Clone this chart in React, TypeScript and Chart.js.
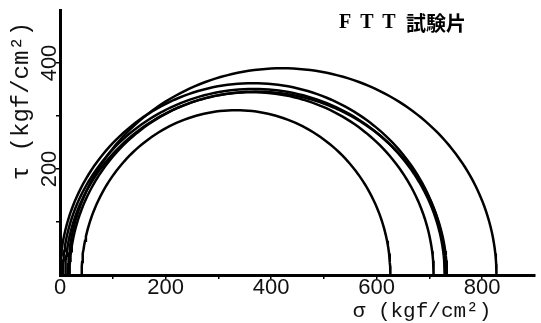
import React, { useEffect, useRef } from "react";
import { Chart, registerables } from "chart.js";

Chart.register(...registerables);

// Mohr circles (kgf/cm²)
const sigma3 = [41, 18, 0, 5, 10, 15]; // left end of each semicircle
const sigma1 = [626, 708, 731, 729, 733, 827]; // right end
const tauPeak = [311, 345, 362, 351, 346, 390]; // top of each arc
const xTickLabels = [0, 200, 400, 600, 800];
const yTickLabels = [200, 400];
const titleText = ["F", "T", "T", "試験片"];
const xAxisTitle = "σ (kgf/cm²)";
const yAxisTitle = "τ (kgf/cm²)";

const STEPS = 120;

function arcPoints(i: number) {
  const c = (sigma1[i] + sigma3[i]) / 2;
  const a = (sigma1[i] - sigma3[i]) / 2;
  const pts: { x: number; y: number }[] = [];
  for (let k = 0; k <= STEPS; k++) {
    const t = (Math.PI * k) / STEPS;
    pts.push({ x: c - a * Math.cos(t), y: tauPeak[i] * Math.sin(t) });
  }
  return pts;
}

const textPlugin = {
  id: "textPlugin",
  afterDraw(chart: any) {
    const ctx = chart.ctx;
    const xs = chart.scales.x;
    const ys = chart.scales.y;
    ctx.save();
    ctx.fillStyle = "#111";
    // x tick labels
    ctx.font = "22px 'Liberation Sans'";
    ctx.textAlign = "center";
    ctx.textBaseline = "middle";
    for (const v of xTickLabels) {
      ctx.fillText(String(v), xs.getPixelForValue(v), 288);
    }
    // y tick labels (rotated)
    for (const v of yTickLabels) {
      ctx.save();
      ctx.translate(50, ys.getPixelForValue(v));
      ctx.rotate(-Math.PI / 2);
      ctx.fillText(String(v), 0, 0);
      ctx.restore();
    }
    // x axis title
    ctx.font = "21px 'Liberation Mono'";
    ctx.fillText(xAxisTitle, 422, 311);
    // y axis title
    ctx.save();
    ctx.font = "24px 'Liberation Mono'";
    ctx.translate(22, 101);
    ctx.rotate(-Math.PI / 2);
    ctx.fillText(yAxisTitle, 0, 0);
    ctx.restore();
    // chart title
    ctx.fillStyle = "#000";
    ctx.font = "bold 20px 'Liberation Serif'";
    ctx.fillText(titleText[0], 345, 23);
    ctx.fillText(titleText[1], 367, 23);
    ctx.fillText(titleText[2], 389, 23);
    ctx.font = "bold 20px 'Noto Sans CJK JP'";
    ctx.textAlign = "left";
    ctx.fillText(titleText[3], 406, 23);
    ctx.restore();
  },
};

export default function App() {
  const ref = useRef<HTMLCanvasElement | null>(null);
  useEffect(() => {
    document.body.style.margin = "0";
    const canvas = ref.current;
    if (!canvas) return;
    const datasets = sigma1.map((_, i) => ({
      data: arcPoints(i),
      showLine: true,
      borderColor: "#000",
      borderWidth: 2.5,
      pointRadius: 0,
      fill: false,
      tension: 0,
    }));
    const hideEdge = (maxV: number) => (c: any) =>
      c.tick && (c.tick.value === maxV || c.tick.value === 0) ? "rgba(0,0,0,0)" : "#000";
    const chart = new Chart(canvas, {
      type: "scatter",
      data: { datasets },
      options: {
        animation: false,
        responsive: false,
        devicePixelRatio: 1,
        layout: { padding: { left: 0, right: 6, top: 10, bottom: 0 } },
        plugins: { legend: { display: false }, tooltip: { enabled: false } },
        scales: {
          x: {
            type: "linear",
            min: 0,
            max: 900,
            afterFit: (s: any) => {
              s.height = 48;
            },
            ticks: { display: false, stepSize: 100 },
            grid: {
              display: true,
              drawOnChartArea: false,
              drawTicks: true,
              tickLength: 4,
              lineWidth: 1.5,
              color: hideEdge(900),
            },
            border: { display: true, color: "#000", width: 3 },
          },
          y: {
            type: "linear",
            min: 0,
            max: 500,
            afterFit: (s: any) => {
              s.width = 60;
            },
            ticks: { display: false, stepSize: 100 },
            grid: {
              display: true,
              drawOnChartArea: false,
              drawTicks: true,
              tickLength: 4,
              lineWidth: 1.5,
              color: hideEdge(500),
            },
            border: { display: true, color: "#000", width: 3 },
          },
        },
      },
      plugins: [textPlugin],
    });
    return () => chart.destroy();
  }, []);
  return (
    <div style={{ position: "absolute", left: 0, top: 0, width: 541, height: 323, background: "#fff" }}>
      <canvas ref={ref} width={541} height={323} />
    </div>
  );
}
